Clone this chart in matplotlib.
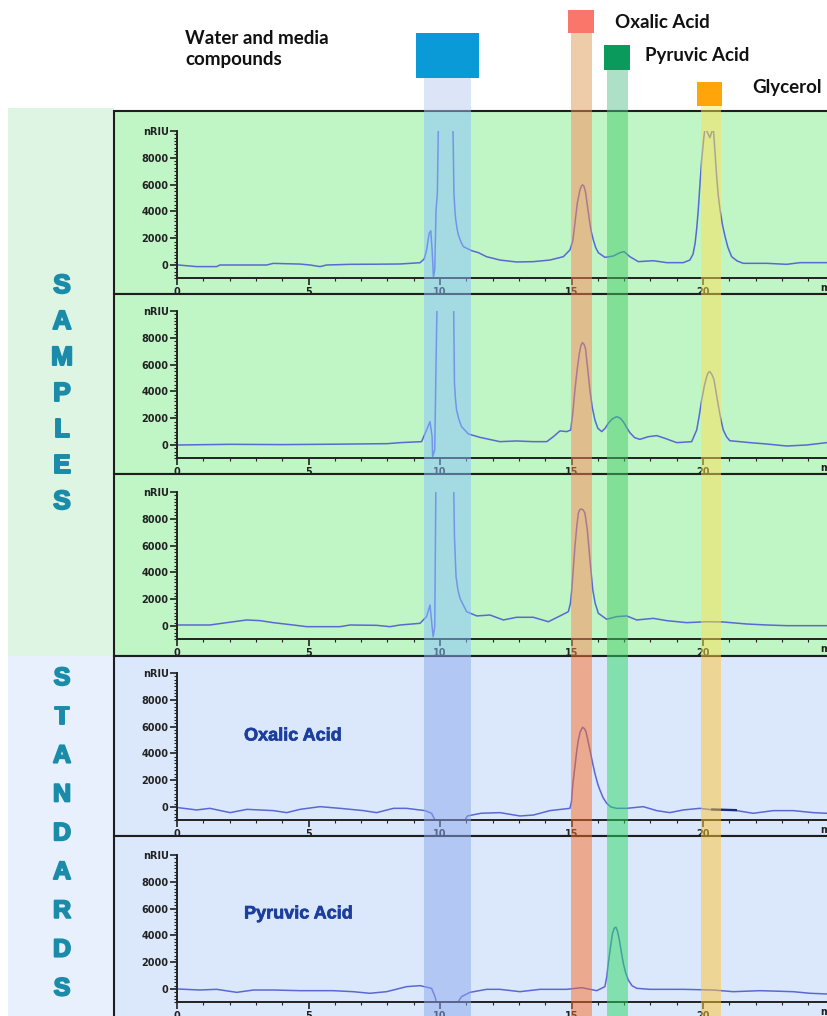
"""HPLC chromatograms of samples and standards with highlighted retention windows."""

import matplotlib

matplotlib.use("Agg")
import matplotlib.patheffects as pe
import matplotlib.pyplot as plt
import matplotlib.transforms as mtransforms
from matplotlib.patches import Rectangle
from matplotlib.ticker import FixedLocator, MultipleLocator

W, H = 827, 1016

# ---- chromatogram traces (retention time in min, signal in nRIU) ----
sample1_t = [0.05, 0.75, 1.51, 1.63, 3.41, 3.66, 4.68, 5.06, 5.44, 5.69, 6.58, 7.6, 8.48,
             9.24, 9.40, 9.49, 9.59, 9.65, 9.70, 9.75, 9.80, 9.85, 9.90, 9.95, 10.2, 10.48,
             10.53, 10.57, 10.60, 10.65, 10.70, 10.80, 10.89, 11.20, 11.46, 11.77, 12.28,
             12.91, 13.55, 14.18, 14.69, 14.94, 15.05, 15.13, 15.22, 15.32, 15.38, 15.42,
             15.47, 15.53, 15.60, 15.68, 15.75, 15.83, 15.92, 16.02, 16.27, 16.59, 16.84,
             17.00, 17.22, 17.54, 18.11, 18.62, 19.25, 19.50, 19.62, 19.70, 19.76, 19.82,
             19.88, 19.95, 20.02, 20.08, 20.17, 20.26, 20.33, 20.39, 20.45, 20.52, 20.58,
             20.65, 20.74, 20.84, 20.95, 21.09, 21.30, 21.53, 22.42, 23.18, 23.69, 24.70]
sample1_v = [0, -120, -120, 0, 0, 120, 70, 0, -120, 0, 50, 60, 75,
             170, 450, 1120, 2370, 2560, 1120, -870, -370, 4100, 5350, 12000, 12000, 12000,
             5350, 4000, 3360, 2700, 2240, 1700, 1370, 1070, 920, 620, 370,
             225, 250, 370, 620, 1120, 1800, 3110, 4600, 5600, 5900, 5980,
             5900, 5480, 4500, 3360, 2500, 1870, 1300, 920, 570, 670, 920,
             1000, 620, 250, 320, 175, 175, 370, 800, 1620, 2700, 4100,
             5900, 7840, 9300, 10300, 9900, 9500, 9900, 10300, 8600, 6600, 5200,
             4100, 3000, 2120, 1300, 620, 300, 125, 125, 50, 175, 175]

sample2_t = [0.05, 2.0, 4.0, 6.0, 8.0, 8.48, 9.30, 9.49, 9.62, 9.70, 9.72, 9.80, 9.85, 9.90,
             10.2, 10.51, 10.55, 10.59, 10.63, 10.72, 10.82, 11.08, 11.52, 12.28, 12.91,
             13.55, 14.06, 14.31, 14.56, 14.82, 14.97, 15.05, 15.13, 15.22, 15.30, 15.36,
             15.42, 15.48, 15.53, 15.61, 15.70, 15.79, 15.89, 16.00, 16.15, 16.28, 16.40,
             16.55, 16.72, 16.85, 16.97, 17.10, 17.22, 17.40, 17.60, 17.92, 18.24, 18.55,
             19.00, 19.57, 19.76, 19.85, 19.95, 20.05, 20.14, 20.20, 20.26, 20.34, 20.42,
             20.50, 20.59, 20.68, 20.77, 20.90, 21.02, 21.79, 22.42, 23.18, 23.94, 24.70]
sample2_v = [0, 50, 30, 60, 100, 175, 250, 1120, 1740, 620, -870, -370, 6100, 12000,
             12000, 12000, 4600, 3400, 2610, 1900, 1370, 820, 570, 250, 300,
             250, 250, 620, 1050, 1000, 1120, 2400, 4100, 5700, 6850, 7450,
             7640, 7500, 7220, 5800, 4100, 2800, 1870, 1250, 1000, 1250, 1620,
             1950, 2120, 2000, 1740, 1300, 920, 550, 420, 620, 700, 500,
             175, 250, 1120, 2100, 3360, 4400, 5100, 5400, 5480, 5250, 4860,
             3900, 2860, 1900, 1120, 600, 320, 175, 75, -75, 0, 175]

sample3_t = [0.05, 1.25, 1.89, 2.65, 3.16, 3.66, 4.42, 4.93, 6.20, 6.58, 7.59, 8.10, 8.48,
             9.24, 9.49, 9.62, 9.70, 9.74, 9.80, 9.85, 10.2, 10.51, 10.55, 10.61, 10.68,
             10.76, 11.01, 11.40, 11.90, 12.41, 12.91, 13.55, 14.12, 14.56, 14.88, 14.96,
             15.01, 15.07, 15.13, 15.20, 15.26, 15.32, 15.39, 15.45, 15.51, 15.60, 15.68,
             15.75, 15.81, 15.90, 16.02, 16.34, 16.72, 17.10, 17.48, 18.11, 18.62, 19.38,
             20.14, 20.77, 21.66, 22.42, 23.18, 24.70]
sample3_v = [75, 75, 250, 450, 400, 250, 75, -50, -50, 75, 50, -50, 75,
             200, 700, 1570, -50, -800, -50, 12000, 12000, 12000, 6670, 3690, 2700,
             2070, 1070, 750, 820, 450, 650, 650, 320, 750, 1070, 1700,
             2690, 4300, 5930, 7400, 8420, 8700, 8720, 8650, 8420, 7200, 5430,
             3900, 2690, 1700, 950, 500, 700, 750, 450, 570, 400, 250,
             320, 300, 150, 75, 25, 25]

oxalic_t = [0.05, 0.75, 1.25, 2.02, 2.66, 3.66, 4.17, 4.68, 5.44, 6.20, 7.09, 7.59, 8.23,
            8.73, 9.43, 9.68, 9.81, 9.87, 10.85, 11.04, 11.55, 12.28, 13.04, 13.55, 14.18,
            14.94, 15.00, 15.05, 15.13, 15.20, 15.26, 15.33, 15.42, 15.49, 15.55, 15.62,
            15.70, 15.80, 15.89, 16.00, 16.08, 16.20, 16.34, 16.50, 16.72, 17.10, 17.73,
            18.24, 18.74, 19.25, 19.88, 20.39, 21.28, 21.91, 22.67, 23.43, 24.19, 24.71]
oxalic_v = [-50, -220, -100, -420, -175, -270, -420, -175, 25, -100, -270, -420, -100,
            -100, -270, -470, -970, -1300, -1300, -670, -470, -420, -670, -600, -270,
            -100, 400, 1700, 3010, 4200, 5000, 5600, 5950, 5850, 5630, 5000,
            4260, 3300, 2510, 1700, 1270, 700, 270, 0, -100, -100, 25,
            -270, -420, -220, -100, -220, -270, -470, -270, -270, -420, -470]
oxalic_mark_t = [20.35, 21.25]
oxalic_mark_v = [-180, -230]

pyruvic_t = [0.05, 0.86, 1.51, 2.27, 2.91, 3.66, 4.68, 5.94, 6.70, 7.33, 7.97, 8.73, 9.24,
             9.68, 9.81, 9.90, 10.57, 10.82, 11.14, 11.77, 12.28, 13.04, 13.80, 14.82,
             15.39, 15.96, 16.27, 16.34, 16.40, 16.48, 16.56, 16.63, 16.69, 16.75, 16.82,
             16.90, 16.97, 17.06, 17.16, 17.30, 17.48, 17.98, 19.25, 20.39, 21.15, 22.17,
             23.43, 24.07, 24.71]
pyruvic_v = [0, -75, -25, -250, -75, -75, -125, -125, -200, -320, -200, 175, 250,
             50, -570, -1300, -1300, -570, -250, -25, -25, -200, -25, -25,
             100, -125, 175, 900, 1920, 3100, 4160, 4550, 4610, 4300, 3660,
             2700, 1920, 1200, 670, 250, 50, -25, -25, -75, -200, -125,
             -200, -320, -370]

traces_t = [sample1_t, sample2_t, sample3_t, oxalic_t, pyruvic_t]
traces_v = [sample1_v, sample2_v, sample3_v, oxalic_v, pyruvic_v]
standard_names = [None, None, None, "Oxalic Acid", "Pyruvic Acid"]
standard_label_y = [None, None, None, 5300, 5600]

# ---- retention windows (min) ----
band_labels = ["Water and media\ncompounds", "Oxalic Acid", "Pyruvic Acid", "Glycerol"]
band_start = [9.39, 14.97, 16.34, 19.91]
band_end = [11.18, 15.79, 17.14, 20.67]
band_key_colors = ["#0a9ad8", "#fa766a", "#0a9a5c", "#ffa50a"]
band_head_colors = ["#b9cdf1", "#e19b55", "#5fc391", "#f5eb55"]
band_sample_colors = ["#8ac3ff", "#ff8753", "#44cd67", "#ffe153"]
band_standard_colors = ["#8da8ef", "#fb6c27", "#29da63", "#ffc631"]


def fx(px):
    return px / W


def fy(py):
    return 1 - py / H


def fig_rect(fig, x0, y0, x1, y1, **kw):
    rect = Rectangle((fx(x0), fy(y1)), fx(x1) - fx(x0), (y1 - y0) / H,
                     transform=fig.transFigure, **kw)
    fig.add_artist(rect)
    return rect


def main() -> None:
    fig = plt.figure(figsize=(W / 100, H / 100), dpi=100)

    # side strips
    fig_rect(fig, 8, 108, 114, 656, facecolor="#def5e4", edgecolor="none", zorder=-3)
    fig_rect(fig, 8, 656, 114, 1016, facecolor="#e8f0fd", edgecolor="none", zorder=-3)

    panel_tops = [111, 294, 474, 656, 836]
    panel_bottoms = [294, 474, 656, 836, 1040]
    panel_zero = [265, 445, 626, 807, 989]
    panel_bg = ["#c0f5c6"] * 3 + ["#dbe8fb"] * 2

    axes = []
    for i in range(5):
        fig_rect(fig, 114, panel_tops[i], 860, panel_bottoms[i],
                 facecolor=panel_bg[i], edgecolor="#1e1e1e", lw=1.5, zorder=-2)
        z = panel_zero[i]
        ax = fig.add_axes([fx(177), fy(z + 13.4), fx(177 + 25 * 26.3) - fx(177), 147.4 / H])
        ax.patch.set_visible(False)
        ax.set_xlim(0, 25)
        ax.set_ylim(-1000, 10000)
        for side in ("top", "right"):
            ax.spines[side].set_visible(False)
        for side in ("left", "bottom"):
            ax.spines[side].set_linewidth(1.4)
            ax.spines[side].set_color("#222222")
        ax.xaxis.set_major_locator(FixedLocator([0, 5, 10, 15, 20]))
        ax.xaxis.set_minor_locator(MultipleLocator(1))
        ax.set_yticks([0, 2000, 4000, 6000, 8000, 10000])
        ax.set_yticklabels(["0", "2000", "4000", "6000", "8000", "nRIU"])
        ax.yaxis.set_minor_locator(MultipleLocator(250))
        ax.tick_params(which="major", direction="out", length=5, width=1.2,
                       labelsize=7, pad=1, colors="#222222")
        ax.tick_params(which="minor", direction="out", length=2.5, width=0.8, colors="#222222")
        for lab in ax.get_xticklabels() + ax.get_yticklabels():
            lab.set_fontweight("bold")
        ax.annotate("min", xy=(24.45, -1000), xytext=(0, -3), textcoords="offset points",
                    ha="left", va="top", fontsize=7, fontweight="bold", color="#222222",
                    annotation_clip=False)

        ax.plot(traces_t[i], traces_v[i], color="#5a68d4", lw=1.1)
        if standard_names[i]:
            ax.text(2.55, standard_label_y[i], standard_names[i], fontsize=13,
                    fontweight="bold", family="Liberation Sans", color="#1c3f9e",
                    va="center", ha="left",
                    path_effects=[pe.withStroke(linewidth=0.5, foreground="#1c3f9e")])
        axes.append(ax)

    axes[3].plot(oxalic_mark_t, oxalic_mark_v, color="#1a2a80", lw=1.6)

    # retention windows spanning all panels: x in data, y in figure
    blend = mtransforms.blended_transform_factory(axes[0].transData, fig.transFigure)
    head_top = [78, 33, 70, 106]
    regions = [(111, 656, band_sample_colors), (656, 1016, band_standard_colors)]
    for k in range(4):
        width = band_end[k] - band_start[k]
        fig.add_artist(Rectangle((band_start[k], fy(111)), width, (111 - head_top[k]) / H,
                                 transform=blend, facecolor=band_head_colors[k],
                                 edgecolor="none", alpha=0.5, zorder=1))
        for y0, y1, cols in regions:
            fig.add_artist(Rectangle((band_start[k], fy(y1)), width, (y1 - y0) / H,
                                     transform=blend, facecolor=cols[k],
                                     edgecolor="none", alpha=0.5, zorder=1))

    # colour keys
    keys = [(416, 33, 479, 78), (568, 10, 594, 33), (604, 45, 630, 70), (697, 82, 722, 106)]
    for k, (x0, y0, x1, y1) in enumerate(keys):
        fig_rect(fig, x0, y0, x1, y1, facecolor=band_key_colors[k], edgecolor="none", zorder=2)

    label_pos = [(185, 49), (615, 22), (645, 55), (752, 87)]
    for k, (x, y) in enumerate(label_pos):
        fig.text(fx(x), fy(y), band_labels[k], fontsize=13.5, fontweight="bold", family="Lato",
                 ha="left", va="center", color="#111111", linespacing=1.3)

    heavy = [pe.withStroke(linewidth=1.4, foreground="#1a8caa")]
    for i, ch in enumerate("SAMPLES"):
        fig.text(fx(62), fy(286 + 36 * i), ch, fontsize=19, fontweight="bold",
                 family="Liberation Sans", color="#1a8caa", ha="center", va="center",
                 path_effects=heavy)
    for i, ch in enumerate("STANDARDS"):
        fig.text(fx(62), fy(678 + 38.8 * i), ch, fontsize=18, fontweight="bold",
                 family="Liberation Sans", color="#1a8caa", ha="center", va="center",
                 path_effects=heavy)

    fig.savefig("out.png", dpi=100)


if __name__ == "__main__":
    main()
